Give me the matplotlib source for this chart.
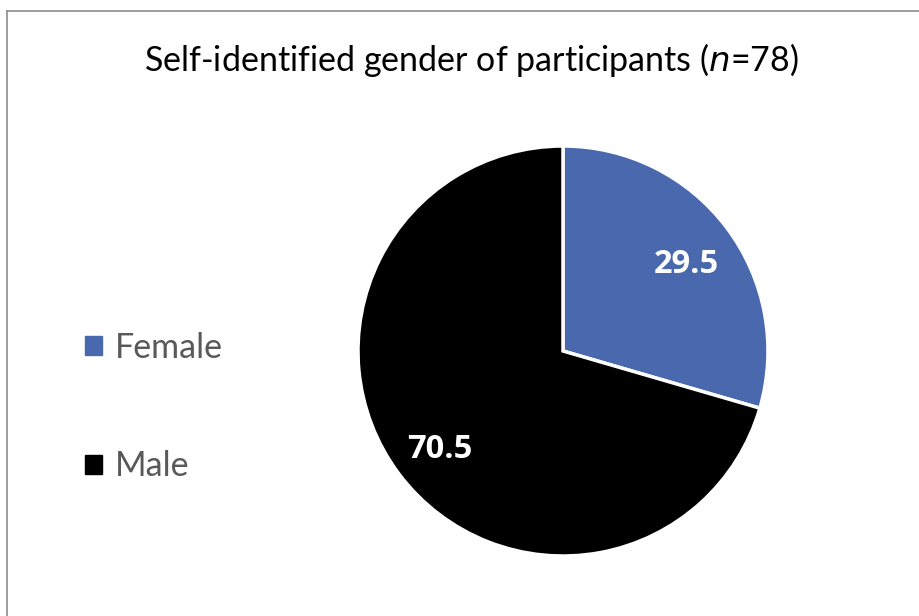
import matplotlib.pyplot as plt
from matplotlib.patches import Rectangle
from matplotlib.lines import Line2D

plt.rcParams['font.family'] = ['Lato', 'DejaVu Sans']

# gender split (%)
labels = ['Female', 'Male']
values = [29.5, 70.5]
colors = ['#4A68AD', '#000000']

fig = plt.figure(figsize=(9.19, 6.16), dpi=100)

# frame around the chart area (only left and top are in view)
fig.add_artist(Line2D([7 / 919, 7 / 919], [0, 1 - 11 / 616], transform=fig.transFigure,
                      color='#8c8c8c', lw=1.2))
fig.add_artist(Line2D([7 / 919, 1], [1 - 11 / 616, 1 - 11 / 616], transform=fig.transFigure,
                      color='#8c8c8c', lw=1.2))

fig.text(471 / 919, 1 - 60 / 616, 'Self-identified gender of participants ($\\it{n}$=78)',
         ha='center', va='center', fontsize=24.5, color='#000000')

ax = fig.add_axes([358 / 919, 60 / 616, 410 / 919, 410 / 616])
wedges, texts, autotexts = ax.pie(values, colors=colors, startangle=90, counterclock=False,
                                  autopct=lambda p: f'{p:.1f}', pctdistance=0.75,
                                  wedgeprops=dict(edgecolor='white', linewidth=2.5))
for t in autotexts:
    t.set_color('white')
    t.set_fontsize(23.5)
    t.set_fontweight('bold')
    t.set_family(['Open Sans', 'DejaVu Sans'])
    x, y = t.get_position()
    t.set_position((x, y - 0.03))
ax.set_xlim(-1, 1)
ax.set_ylim(-1, 1)
ax.set_aspect('equal')

handles = [Rectangle((0, 0), 1, 1, color=c) for c in colors]
leg = fig.legend(handles, labels, loc='center left', bbox_to_anchor=(54 / 919, 1 - 407 / 616),
                 frameon=False, fontsize=24.5, handlelength=0.5, handleheight=0.5,
                 handletextpad=0.4, labelspacing=2.55, labelcolor='#595959')

fig.savefig('out.png', dpi=100, facecolor='white')
